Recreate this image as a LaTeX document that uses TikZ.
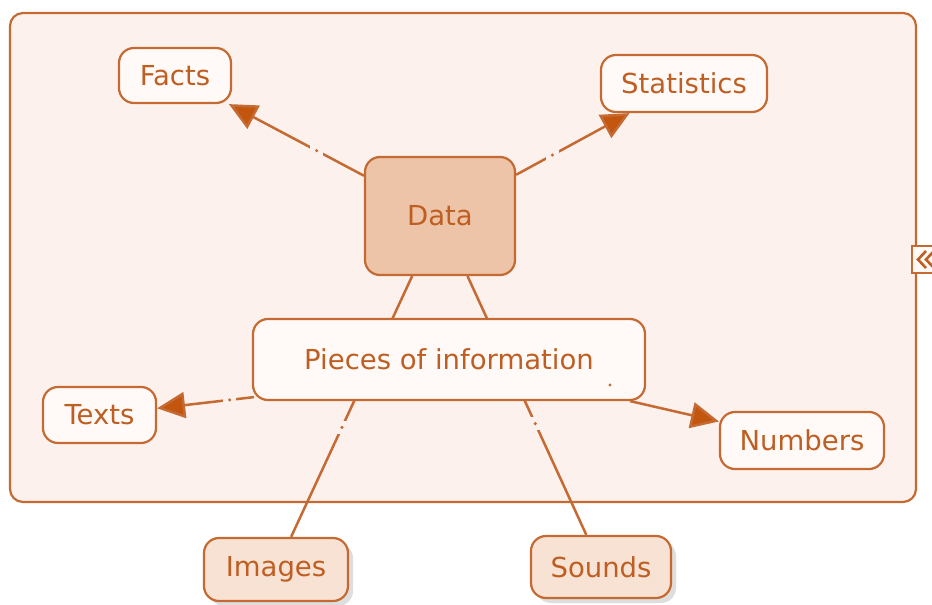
\documentclass[tikz,border=0pt]{standalone}
\usepackage{fontspec}
\setmainfont{DejaVu Sans}
\usetikzlibrary{arrows.meta,shadows}

\definecolor{rim}{HTML}{C46A32}
\definecolor{ink}{HTML}{BE5E22}
\definecolor{tip}{HTML}{C2560F}
\definecolor{panel}{HTML}{FCF1EC}
\definecolor{paper}{HTML}{FFFAF7}
\definecolor{core}{HTML}{EDC4A7}
\definecolor{leaf}{HTML}{F8E2D4}

\tikzset{
  concept/.style={draw=rim, line width=2.2pt, rounded corners=15pt, fill=paper,
    text=ink, font=\fontsize{27.5}{32}\selectfont, inner sep=0pt},
  hub/.style={concept, fill=core},
  media/.style={concept, fill=leaf,
    drop shadow={shadow xshift=5pt, shadow yshift=-5pt, fill=black!25, opacity=0.5}},
  link/.style={draw=rim, line width=2.5pt},
  arrowlink/.style={link, -{Triangle[length=28pt,width=26pt,fill=tip]}},
  gap/.style={fill=panel, inner sep=0pt, minimum size=13pt,
    path picture={\fill[rim] (path picture bounding box.center) circle (1.7pt);}},
}

\begin{document}
\begin{tikzpicture}[x=1pt,y=-1pt]
  \useasboundingbox (0,0) rectangle (932,605);
  \fill[white] (0,0) rectangle (932,605);

  % outer panel
  \draw[rim, line width=2.2pt, fill=panel, rounded corners=13pt] (10,13) rectangle (916,502);

  % collapse handle on the right edge
  \begin{scope}
    \clip (0,0) rectangle (932,605);
    \draw[rim, line width=1.8pt, fill=paper] (912,246) rectangle (940,273);
    \draw[ink, line width=2.6pt] (926,251) -- (918,259.5) -- (926,268);
    \draw[ink, line width=2.6pt] (934,251) -- (926,259.5) -- (934,268);
  \end{scope}

  % concept boxes
  \node[hub, minimum width=150pt, minimum height=118pt] (data) at (440,216) {Data};
  \node[concept, minimum width=112pt, minimum height=55pt] (facts) at (175,75.5) {Facts};
  \node[concept, minimum width=166pt, minimum height=57pt] (stats) at (684,83.5) {Statistics};
  \node[media, minimum width=144pt, minimum height=63pt] (images) at (276,569.5) {Images};
  \node[media, minimum width=140pt, minimum height=62pt] (sounds) at (601,567) {Sounds};

  % links from Data (the two downward ones pass behind the central box)
  \path[arrowlink] (data) -- node[gap, pos=0.35] {} (facts);
  \path[arrowlink] (data) -- node[gap, pos=0.32] {} (stats);
  \path[link] (data) -- node[gap, pos=0.58] {} (images);
  \path[link] (data) -- node[gap, pos=0.57] {} (sounds);

  \node[concept, minimum width=392pt, minimum height=81pt] (pieces) at (449,359.5) {Pieces of information};
  \node[concept, minimum width=113pt, minimum height=56pt] (texts) at (99.5,415) {Texts};
  \node[concept, minimum width=164pt, minimum height=57pt] (numbers) at (802,440.5) {Numbers};

  % links from the central box
  \coordinate (pw) at ([shift={(2,-4)}]pieces.south west);
  \path[arrowlink] (pw) -- node[gap, pos=0.25] {} (texts);
  \path[arrowlink] (pieces) -- (numbers);
  \fill[rim] (610,385) circle (1.7pt);
\end{tikzpicture}
\end{document}
